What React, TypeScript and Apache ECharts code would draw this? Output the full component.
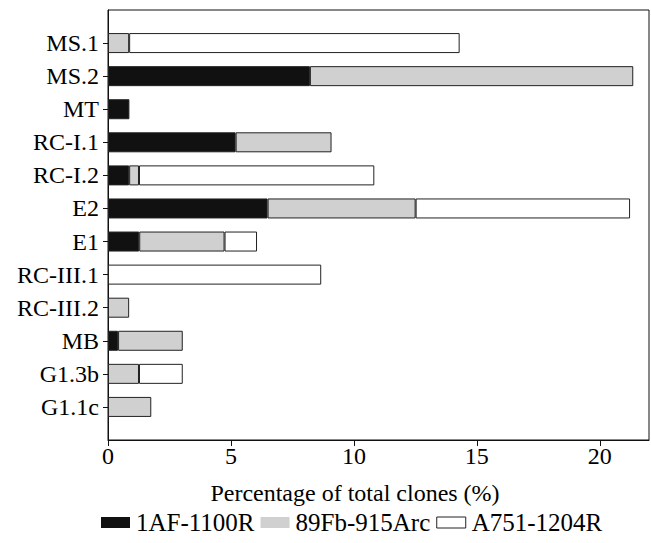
import React, { useEffect, useRef } from "react";
import * as echarts from "echarts";

const categories = ["MS.1", "MS.2", "MT", "RC-I.1", "RC-I.2", "E2", "E1", "RC-III.1", "RC-III.2", "MB", "G1.3b", "G1.1c"];
const seriesNames = ["1AF-1100R", "89Fb-915Arc", "A751-1204R"];
const black: (number | null)[] = [null, 8.21, 0.87, 5.19, 0.86, 6.49, 1.27, null, null, 0.41, null, null];
const gray: (number | null)[] = [0.86, 13.15, null, 3.9, 0.4, 6.02, 3.47, null, 0.86, 2.63, 1.26, 1.76];
const white: (number | null)[] = [13.44, null, null, null, 9.57, 8.72, 1.32, 8.67, null, null, 1.78, null];
const xTicks = [0, 5, 10, 15, 20];

const FONT = "Liberation Serif";

export default function App() {
  const ref = useRef<HTMLDivElement>(null);
  useEffect(() => {
    if (!ref.current) return;
    const chart = echarts.init(ref.current, undefined, { renderer: "svg" });
    const padded = (arr: (number | null)[]) => [null, ...arr, null];
    const yData = ["", ...categories, ""];
    const colors = ["#111111", "#d0d0d0", "#ffffff"];
    const values = [black, gray, white];
    chart.setOption({
      animation: false,
      textStyle: { fontFamily: FONT, color: "#000" },
      grid: {
        left: 108,
        right: 2,
        top: 10,
        bottom: 103,
        show: true,
        borderColor: "#111",
        borderWidth: 1,
        backgroundColor: "transparent",
      },
      legend: {
        left: 96,
        top: 505,
        itemWidth: 29,
        itemHeight: 11,
        itemGap: 6,
        icon: "rect",
        textStyle: { fontFamily: FONT, fontSize: 25, color: "#000", padding: [0, 0, 0, 1] },
        data: [
          { name: seriesNames[0], itemStyle: { borderWidth: 0 } },
          { name: seriesNames[1], itemStyle: { borderWidth: 0 } },
          { name: seriesNames[2], itemStyle: { borderColor: "#222", borderWidth: 1 } },
        ],
      },
      xAxis: {
        type: "value",
        min: 0,
        max: 22,
        interval: 5,
        splitLine: { show: false },
        axisLine: { show: true, lineStyle: { color: "#111", width: 1 } },
        axisTick: { show: true, length: 6, lineStyle: { color: "#111" }, customValues: xTicks },
        axisLabel: {
          fontFamily: FONT,
          fontSize: 24,
          color: "#000",
          margin: 4,
          customValues: xTicks,
        },
        name: "Percentage of total clones (%)",
        nameLocation: "middle",
        nameGap: 41,
        nameTextStyle: { fontFamily: FONT, fontSize: 24, color: "#000", padding: [0, 47, 0, 0] },
      },
      yAxis: {
        type: "category",
        data: yData,
        inverse: true,
        boundaryGap: false,
        axisLine: { show: true, lineStyle: { color: "#111", width: 1 } },
        axisTick: {
          show: true,
          length: 5,
          lineStyle: { color: "#111" },
          interval: (idx: number) => idx > 0 && idx < yData.length - 1,
        },
        axisLabel: {
          fontFamily: FONT,
          fontSize: 24,
          color: "#000",
          margin: 9,
          interval: 0,
        },
        splitLine: { show: false },
      },
      series: seriesNames.map((name, i) => ({
        name,
        type: "bar",
        stack: "total",
        barWidth: 20,
        data: padded(values[i]),
        itemStyle: { color: colors[i], borderColor: "#222", borderWidth: 1 },
      })),
    });
    return () => chart.dispose();
  }, []);
  return (
    <div
      ref={ref}
      style={{ position: "absolute", left: 0, top: 0, width: 651, height: 543, background: "#fff" }}
    />
  );
}
